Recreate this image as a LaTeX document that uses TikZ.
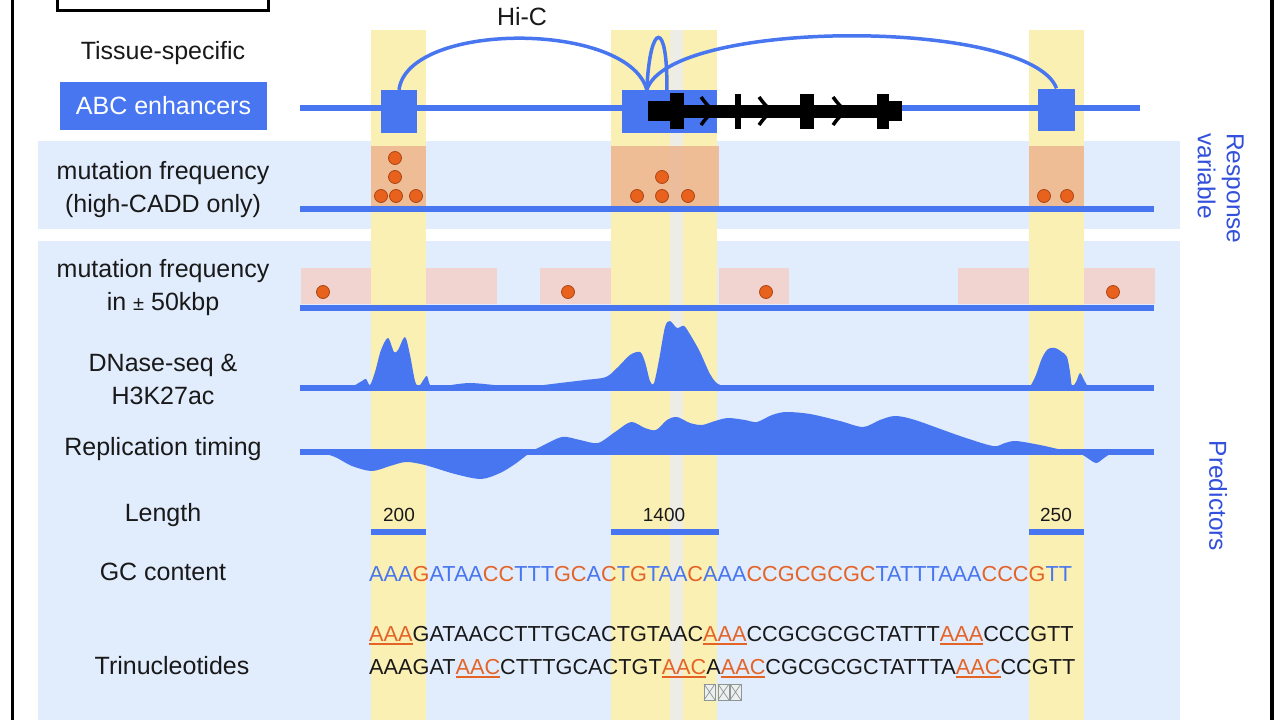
\documentclass[tikz,border=0pt]{standalone}
\usepackage{fontspec}
\setmainfont{Liberation Sans}
\usetikzlibrary{calc}
\definecolor{abc}{RGB}{72,118,240}
\definecolor{band}{RGB}{251,240,180}
\definecolor{stripe}{RGB}{237,237,229}
\definecolor{panel}{RGB}{225,236,253}
\definecolor{orangebox}{RGB}{236,181,145}
\definecolor{pinkbox}{RGB}{241,212,207}
\definecolor{dotfill}{RGB}{232,98,30}
\definecolor{dotedge}{RGB}{170,70,20}
\definecolor{seqorange}{RGB}{228,100,40}
\definecolor{sidelabel}{RGB}{50,80,220}
\definecolor{txt}{RGB}{25,25,25}
\definecolor{tofu}{RGB}{140,150,150}
\newcommand\triu[1]{\textcolor{seqorange}{\setbox0\hbox{#1}\rlap{\rule[-4pt]{\wd0}{1.6pt}}\box0}}
\newcommand\seqgc[1]{\textcolor{seqorange}{#1}}
\newcommand\seqat[1]{\textcolor{abc}{#1}}
\tikzset{
  lab/.style={font=\fontsize{25}{33}\selectfont, text=txt, align=center, inner sep=0pt},
  track/.style={draw=abc, line width=6pt},
  mdot/.style={circle, fill=dotfill, draw=dotedge, line width=0.8pt, minimum size=13pt, inner sep=0pt},
  seqtext/.style={font=\fontsize{21.7}{26}\selectfont, inner sep=0pt, anchor=base west, text=txt},
  enh/.style={fill=abc, inner sep=0pt},
  hic/.style={draw=abc, line width=3.5pt},
  side/.style={font=\fontsize{24.5}{29}\selectfont, text=sidelabel, inner sep=0pt, rotate=-90},
  numlab/.style={font=\fontsize{19}{22}\selectfont, text=txt, inner sep=0pt},
  chev/.style={draw=black, line width=3.5pt, line join=miter},
  tofubox/.style={draw=tofu, line width=1pt, fill=white!85!tofu}
}
\newcommand\genechev[1]{%
  \draw[chev] (#1-13,97) .. controls (#1-7,105) .. (#1,111) .. controls (#1-7,117) .. (#1-13,125);}
\begin{document}
\begin{tikzpicture}[x=1pt,y=-1pt]
\useasboundingbox (0,0) rectangle (1280,720);
\fill[white] (0,0) rectangle (1280,720);
% frame
\draw[line width=3.5pt] (12.5,-5) -- (12.5,725);
\draw[line width=3.5pt] (1272,-5) -- (1272,725);
\draw[line width=3pt] (57,-20) rectangle (268,10.5);
% panels
\fill[panel] (38,141) rectangle (1180,229);
\fill[panel] (38,241) rectangle (1180,725);
% yellow bands
\fill[band] (371,30) rectangle (426,725);
\fill[band] (611,30) rectangle (717,725);
\fill[stripe] (670,30) rectangle (683,725);
\fill[band] (1029,30) rectangle (1084,725);
% left labels
\node[lab] (tissue) at (163,53) {Tissue-specific};
\node[fill=abc, minimum width=207pt, minimum height=48pt, inner sep=0pt, text=white, font=\fontsize{25}{30}\selectfont] (abcbox) at (163.5,106) {ABC enhancers};
\node[lab] (mf1) at (163,190) {mutation frequency\\(high-CADD only)};
\node[lab] (mf2) at (163,288) {mutation frequency\\in {\fontsize{20}{24}\selectfont ±} 50kbp};
\node[lab] (dnase) at (163,379) {DNase-seq \&\\H3K27ac};
\node[lab] (rep) at (163,449) {Replication timing};
\node[lab] (len) at (163,515) {Length};
\node[lab] (gc) at (163,572) {GC content};
\node[lab] (tri) at (172,666) {Trinucleotides};
% right labels
\node[side, anchor=north west, align=left] (resp) at (1244,133) {Response\\variable};
\node[side] (pred) at (1218,496) {Predictors};
% gene track
\draw[track] (300,108) -- (1140,108);
\node[enh, minimum width=36pt, minimum height=43pt] (e1) at (399,111.5) {};
\node[enh, minimum width=95pt, minimum height=43pt] (e2) at (669.5,111.5) {};
\node[enh, minimum width=37pt, minimum height=42pt] (e3) at (1056.5,109.5) {};
\coordinate (e2a) at ($(e2.north west)+(25,0)$);
\coordinate (e2b) at ($(e2.north west)+(45,0)$);
\draw[hic] (e1.north) .. controls (408,21) and (628,21) .. (e2a);
\draw[hic] (e2a) .. controls (650,20) and (668,20) .. (e2b);
\draw[hic] (e2a) .. controls (670,18) and (1030,18) .. (e3.north);
\node[lab] (hic) at (522,17) {Hi-C};
% gene
\fill[black] (648,101) rectangle (670,121);
\fill[black] (670,93) rectangle (684,129);
\fill[black] (684,104.5) rectangle (877,117.5);
\fill[black] (735,94) rectangle (741,129);
\fill[black] (800,94) rectangle (814,129);
\fill[black] (877,94) rectangle (889,129);
\fill[black] (889,101) rectangle (902,121);
\genechev{714}
\genechev{772}
\genechev{846}
% response track
\fill[orangebox, opacity=0.85] (371,146) rectangle (426,206);
\fill[orangebox, opacity=0.85] (611,146) rectangle (719,206);
\fill[orangebox, opacity=0.85] (1029,146) rectangle (1084,206);
\draw[track] (300,209) -- (1154,209);
\foreach \px/\py [count=\i] in {395/158,395/177,381/196,396/196,416/196,662/177,637/196,662/196,688/196,1044/196,1067/196}
  \node[mdot] (rd\i) at (\px,\py) {};
% mutation in 50kbp
\foreach \xa/\xb in {301/371,426/497,540/611,719/789,958/1029,1084/1155}
  \fill[pinkbox] (\xa,268) rectangle (\xb,304);
\draw[track] (300,308) -- (1154,308);
\foreach \px [count=\i] in {323,568,766,1113}
  \node[mdot] (pd\i) at (\px,292) {};
% DNase
\fill[abc] plot[smooth, tension=0.5] coordinates {(352,387) (362,381) (366,379) (370,385) (375,372) (381,350) (388,338) (394,352) (398,350) (405,337) (410,355) (415,381) (419,386) (424,379) (427,376) (430,385) (435,387)} -- cycle;
\fill[abc] plot[smooth, tension=0.5] coordinates {(440,387) (470,383) (510,387)} -- cycle;
\fill[abc] plot[smooth, tension=0.5] coordinates {(528,387) (560,383) (585,380) (606,377) (618,367) (630,355) (640,352) (645,362) (650,381) (654,383) (659,360) (665,327) (670,321) (677,328) (684,326) (691,336) (700,352) (710,374) (718,384) (730,387)} -- cycle;
\fill[abc] plot[smooth, tension=0.5] coordinates {(1030,387) (1036,375) (1042,358) (1048,349) (1055,348) (1062,352) (1067,357) (1070,372) (1072,386) (1076,382) (1080,373) (1084,380) (1088,387)} -- cycle;
\draw[track] (300,388) -- (1154,388);
% replication timing
\fill[abc] plot[smooth, tension=0.5] coordinates {(528,453) (540,447) (562,437) (580,440) (598,443) (615,432) (631,422) (645,428) (656,430) (667,420) (677,417) (690,423) (702,425) (715,421) (728,418) (745,420) (757,422) (772,415) (786,412) (810,414) (840,421) (863,427) (880,420) (895,416) (915,420) (960,436) (993,446) (1005,443) (1016,441) (1040,445) (1062,450) (1074,453)} -- cycle;
\fill[abc] plot[smooth, tension=0.5] coordinates {(316,451) (335,457) (352,466) (372,471) (390,466) (406,462) (425,465) (455,474) (481,479) (500,473) (515,464) (532,451)} -- cycle;
\fill[abc] plot[smooth, tension=0.5] coordinates {(1076,451) (1086,457) (1096,463) (1104,458) (1114,451)} -- cycle;
\draw[track] (300,452) -- (1154,452);
% length
\node[numlab] (l1) at (399,515) {200};
\node[numlab] (l2) at (664,515) {1400};
\node[numlab] (l3) at (1056,515) {250};
\draw[track] (371,532) -- (426,532);
\draw[track] (611,532) -- (719,532);
\draw[track] (1029,532) -- (1084,532);
% sequences
\node[seqtext] (gcseq) at (369,581) {\seqat{AAA}\seqgc{G}\seqat{ATAA}\seqgc{CC}\seqat{TTT}\seqgc{GC}\seqat{A}\seqgc{C}\seqat{T}\seqgc{G}\seqat{TAA}\seqgc{C}\seqat{AAA}\seqgc{CCGCGCGC}\seqat{TATTTAAA}\seqgc{CCCG}\seqat{TT}};
\node[seqtext] (tri1) at (369,641) {\triu{AAA}GATAACCTTTGCACTGTAAC\triu{AAA}CCGCGCGCTATTT\triu{AAA}CCCGTT};
\node[seqtext] (tri2) at (369,674) {AAAGAT\triu{AAC}CTTTGCACTGT\triu{AAC}A\triu{AAC}CGCGCGCTATTTA\triu{AAC}CCGTT};
% missing-glyph boxes
\foreach \xa [count=\i] in {704,718,730}{
  \draw[tofubox] (\xa,684) rectangle (\xa+11,700);
  \draw[draw=tofu, line width=0.7pt] (\xa,684) -- (\xa+11,700) (\xa+11,684) -- (\xa,700);
}
\end{tikzpicture}
\end{document}
